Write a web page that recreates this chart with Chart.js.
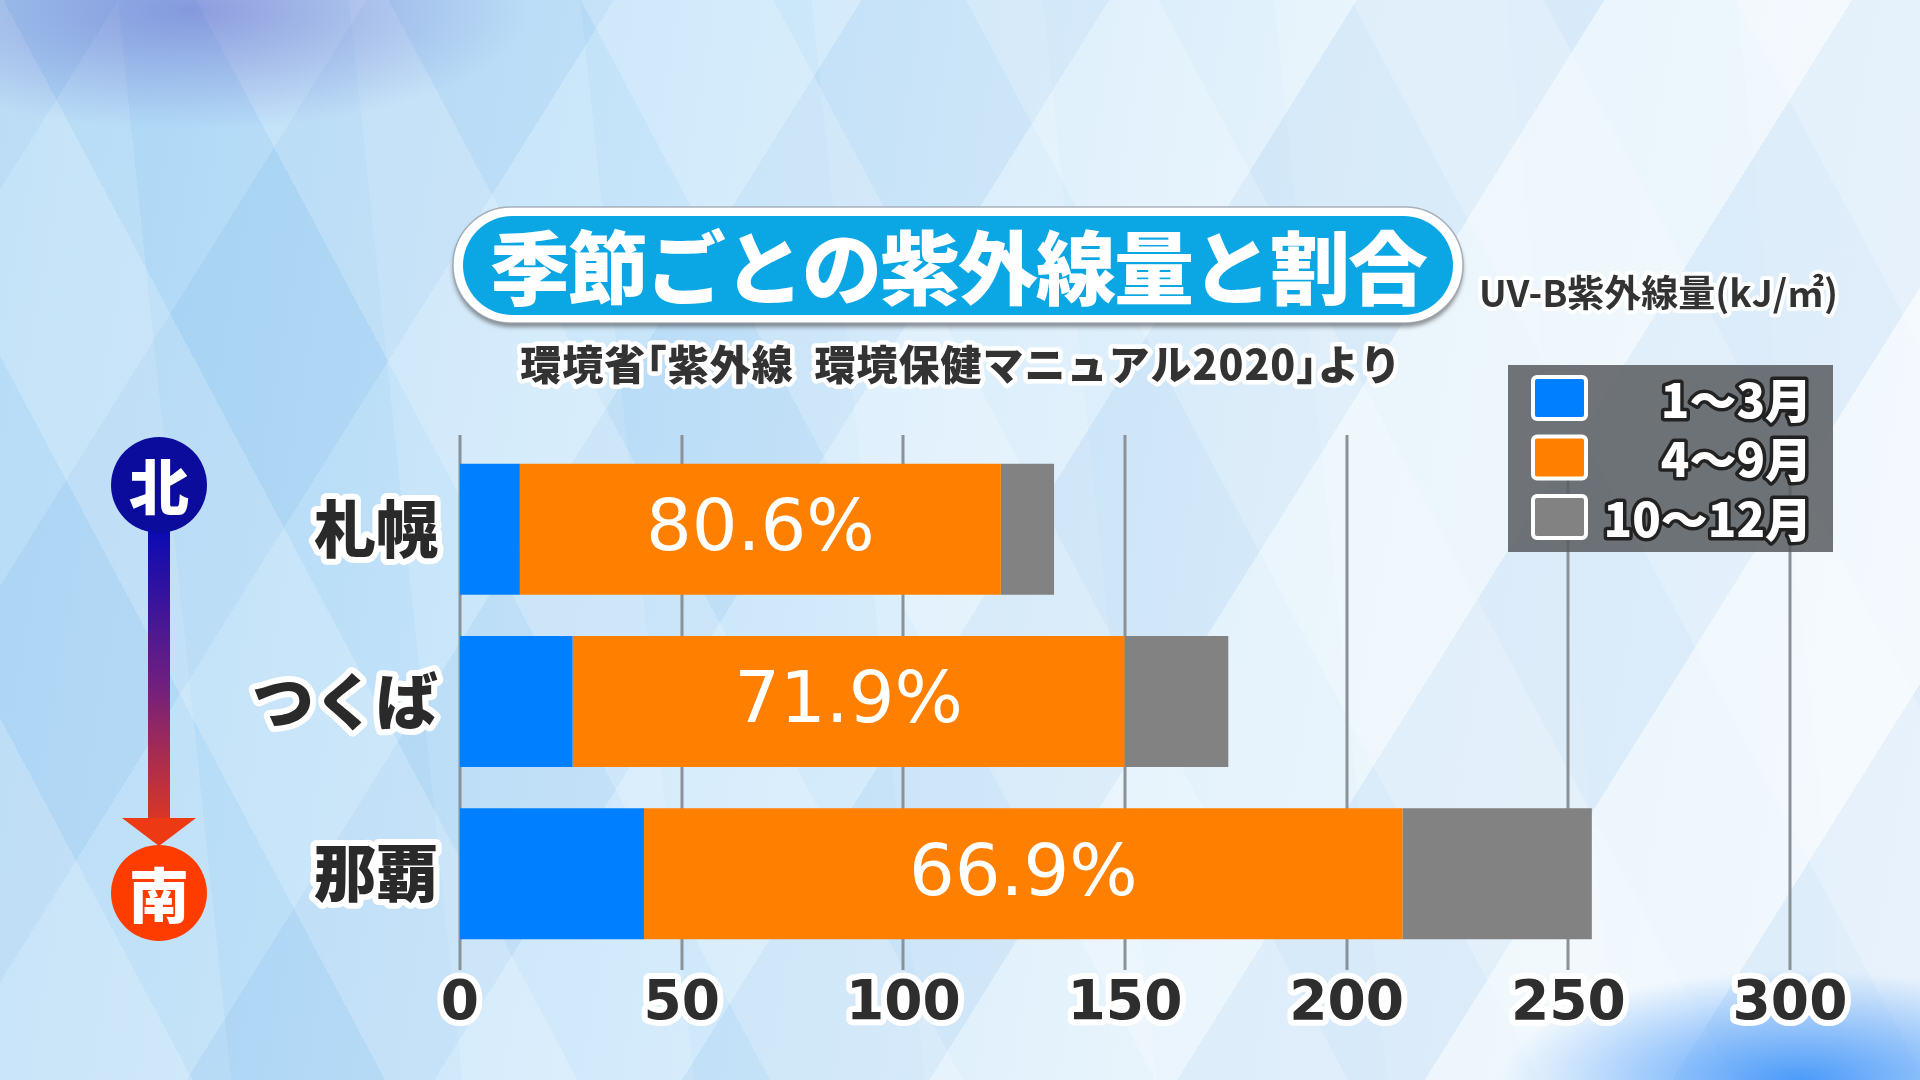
<!DOCTYPE html>
<html lang="ja">
<head>
<meta charset="utf-8">
<title>季節ごとの紫外線量と割合</title>
<script src="https://cdn.jsdelivr.net/npm/chart.js@4.4.1/dist/chart.umd.min.js"></script>
<style>
  html, body { margin: 0; padding: 0; width: 1920px; height: 1080px; overflow: hidden; }
  body {
    background:
      radial-gradient(ellipse 340px 120px at 190px 10px, rgba(95,100,200,0.55), rgba(95,100,200,0) 100%),
      radial-gradient(ellipse 300px 110px at 1800px 1080px, rgba(50,140,250,0.85), rgba(50,140,250,0) 100%),
      repeating-linear-gradient(62deg, rgba(255,255,255,0.20) 0 170px, rgba(255,255,255,0) 170px 340px),
      repeating-linear-gradient(-58deg, rgba(90,160,225,0.12) 0 210px, rgba(90,160,225,0) 210px 420px),
      repeating-linear-gradient(84deg, rgba(255,255,255,0.14) 0 230px, rgba(255,255,255,0) 230px 460px),
      linear-gradient(100deg, #a9d5f5 0%, #c9e6fa 35%, #e6f3fc 65%, #f3f9fe 100%);
  }
  #wrap { position: absolute; left: 0; top: 0; width: 1920px; height: 1080px; }
</style>
</head>
<body>
<div id="wrap"><canvas id="uvChart" width="1920" height="1080"></canvas></div>
<script>
// UV-B amount (kJ/m2) per season
const cities = ['札幌', 'つくば', '那覇'];
const janMar = [13.5, 25.4, 41.5];
const aprSep = [108.5, 124.5, 171.1];
const octDec = [12.0, 23.4, 42.7];
const shareLabels = ['80.6%', '71.9%', '66.9%'];
const seasons = ['1〜3月', '4〜9月', '10〜12月'];
const seasonColors = ['#0080ff', '#ff8000', '#828282'];

const titleText = '季節ごとの紫外線量と割合';
const sourceText = '環境省｢紫外線  環境保健マニュアル2020｣より';
const unitText = 'UV-B紫外線量(kJ/㎡)';

const JP = '"Noto Sans CJK JP", "Noto Sans", sans-serif';

function outlined(ctx, text, x, y, fill, stroke, sw) {
  if (sw) {
    ctx.lineJoin = 'round';
    ctx.lineWidth = sw;
    ctx.strokeStyle = stroke;
    ctx.strokeText(text, x, y);
  }
  ctx.fillStyle = fill;
  ctx.fillText(text, x, y);
}

function pill(ctx, x, y, w, h) {
  const r = h / 2;
  ctx.beginPath();
  ctx.moveTo(x + r, y);
  ctx.lineTo(x + w - r, y);
  ctx.arc(x + w - r, y + r, r, -Math.PI / 2, Math.PI / 2);
  ctx.lineTo(x + r, y + h);
  ctx.arc(x + r, y + r, r, Math.PI / 2, Math.PI * 1.5);
  ctx.closePath();
}

function roundRect(ctx, x, y, w, h, r) {
  ctx.beginPath();
  ctx.moveTo(x + r, y);
  ctx.arcTo(x + w, y, x + w, y + h, r);
  ctx.arcTo(x + w, y + h, x, y + h, r);
  ctx.arcTo(x, y + h, x, y, r);
  ctx.arcTo(x, y, x + w, y, r);
  ctx.closePath();
}

// rounded joins for the outlined tick labels
const roundJoins = {
  id: 'roundJoins',
  beforeDraw(chart) { chart.ctx.lineJoin = 'round'; }
};

// vertical lines at every tick, a bit longer than the plot area
const valueGrid = {
  id: 'valueGrid',
  beforeDatasetsDraw(chart) {
    const {ctx, chartArea, scales: {x}} = chart;
    ctx.save();
    ctx.strokeStyle = '#8a9298';
    ctx.lineWidth = 3;
    x.ticks.forEach(t => {
      const px = Math.round(x.getPixelForValue(t.value));
      ctx.beginPath();
      ctx.moveTo(px, chartArea.top - 8);
      ctx.lineTo(px, chartArea.bottom + 10);
      ctx.stroke();
    });
    ctx.restore();
  }
};

// share of the summer half, centred on the orange segment
const shareText = {
  id: 'shareText',
  afterDatasetsDraw(chart) {
    const meta = chart.getDatasetMeta(1);
    const ctx = chart.ctx;
    ctx.save();
    ctx.font = '72px "DejaVu Sans", sans-serif';
    ctx.textAlign = 'center';
    ctx.textBaseline = 'middle';
    ctx.fillStyle = '#ffffff';
    meta.data.forEach((bar, i) => {
      const p = bar.getProps(['x', 'base', 'y'], true);
      ctx.fillText(shareLabels[i], (p.x + p.base) / 2, p.y + 2);
    });
    ctx.restore();
  }
};

const decor = {
  id: 'decor',
  afterDraw(chart) {
    const ctx = chart.ctx;
    ctx.save();

    // title pill
    ctx.save();
    ctx.shadowColor = 'rgba(60,60,60,0.55)';
    ctx.shadowBlur = 4;
    ctx.shadowOffsetY = 4;
    pill(ctx, 453, 207, 1010, 116);
    ctx.fillStyle = '#ffffff';
    ctx.fill();
    ctx.restore();
    pill(ctx, 453, 207, 1010, 116);
    ctx.strokeStyle = 'rgba(150,160,170,0.8)';
    ctx.lineWidth = 1.5;
    ctx.stroke();
    pill(ctx, 463, 216, 990, 99);
    ctx.fillStyle = '#0ba6e4';
    ctx.fill();
    ctx.font = '900 80px ' + JP;
    ctx.textAlign = 'center';
    ctx.textBaseline = 'middle';
    ctx.letterSpacing = '-2px';
    outlined(ctx, titleText, 958, 268, '#ffffff');

    // source line and unit
    ctx.letterSpacing = '1px';
    ctx.font = '900 41px ' + JP;
    outlined(ctx, sourceText, 961, 364, '#333333', '#ffffff', 9);
    ctx.letterSpacing = '0px';
    ctx.textAlign = 'left';
    ctx.font = 'bold 37px ' + JP;
    outlined(ctx, unitText, 1479, 293, '#333333', 'rgba(255,255,255,0.9)', 8);

    // legend box, labels from the datasets
    ctx.fillStyle = 'rgba(88,92,95,0.85)';
    ctx.fillRect(1508, 365, 325, 187);
    chart.data.datasets.forEach((ds, i) => {
      const y = 377 + i * 59.5;
      roundRect(ctx, 1533, y, 53, 42, 4);
      ctx.fillStyle = ds.backgroundColor;
      ctx.fill();
      ctx.strokeStyle = '#ffffff';
      ctx.lineWidth = 4;
      ctx.stroke();
      ctx.font = '900 47px ' + JP;
      ctx.textAlign = 'right';
      ctx.textBaseline = 'middle';
      outlined(ctx, ds.label, 1812, y + 23, '#ffffff', '#222222', 7);
    });

    // north to south arrow
    const grad = ctx.createLinearGradient(0, 530, 0, 845);
    grad.addColorStop(0, '#0a0ab4');
    grad.addColorStop(0.5, '#72207e');
    grad.addColorStop(1, '#ee3a14');
    ctx.fillStyle = grad;
    ctx.fillRect(148, 525, 22, 296);
    ctx.beginPath();
    ctx.moveTo(122, 818);
    ctx.lineTo(196, 818);
    ctx.lineTo(159, 846);
    ctx.closePath();
    ctx.fillStyle = '#ee3a14';
    ctx.fill();
    [['北', 485, '#0c0c9c'], ['南', 893, '#ff3c00']].forEach(([t, cy, c]) => {
      ctx.beginPath();
      ctx.arc(159, cy, 48, 0, Math.PI * 2);
      ctx.fillStyle = c;
      ctx.fill();
      ctx.font = '900 60px ' + JP;
      ctx.textAlign = 'center';
      ctx.textBaseline = 'middle';
      outlined(ctx, t, 159, cy + 2, '#ffffff');
    });

    ctx.restore();
  }
};

const ctx = document.getElementById('uvChart');
new Chart(ctx, {
  type: 'bar',
  data: {
    labels: cities,
    datasets: [
      { label: seasons[0], data: janMar, backgroundColor: seasonColors[0] },
      { label: seasons[1], data: aprSep, backgroundColor: seasonColors[1] },
      { label: seasons[2], data: octDec, backgroundColor: seasonColors[2] }
    ]
  },
  options: {
    indexAxis: 'y',
    responsive: false,
    animation: false,
    devicePixelRatio: 1,
    layout: { padding: { top: 443, right: 130, bottom: 0, left: 0 } },
    datasets: { bar: { categoryPercentage: 1, barPercentage: 0.76, borderWidth: 0 } },
    plugins: {
      legend: { display: false },
      tooltip: { enabled: false }
    },
    scales: {
      x: {
        stacked: true,
        min: 0,
        max: 300,
        ticks: {
          stepSize: 50,
          color: '#2e2e2e',
          font: { family: '"DejaVu Sans", sans-serif', weight: 'bold', size: 55 },
          textStrokeColor: '#ffffff',
          textStrokeWidth: 12,
          padding: 12
        },
        grid: { display: false, drawTicks: false },
        border: { display: false },
        afterFit(scale) { scale.height = 120; }
      },
      y: {
        stacked: true,
        ticks: {
          color: '#2a2a2a',
          font: { family: JP, weight: 900, size: 62 },
          textStrokeColor: '#ffffff',
          textStrokeWidth: 12,
          padding: 22
        },
        grid: { display: false, drawTicks: false },
        border: { display: false },
        afterFit(scale) { scale.width = 460; }
      }
    }
  },
  plugins: [roundJoins, valueGrid, shareText, decor]
});
</script>
</body>
</html>
